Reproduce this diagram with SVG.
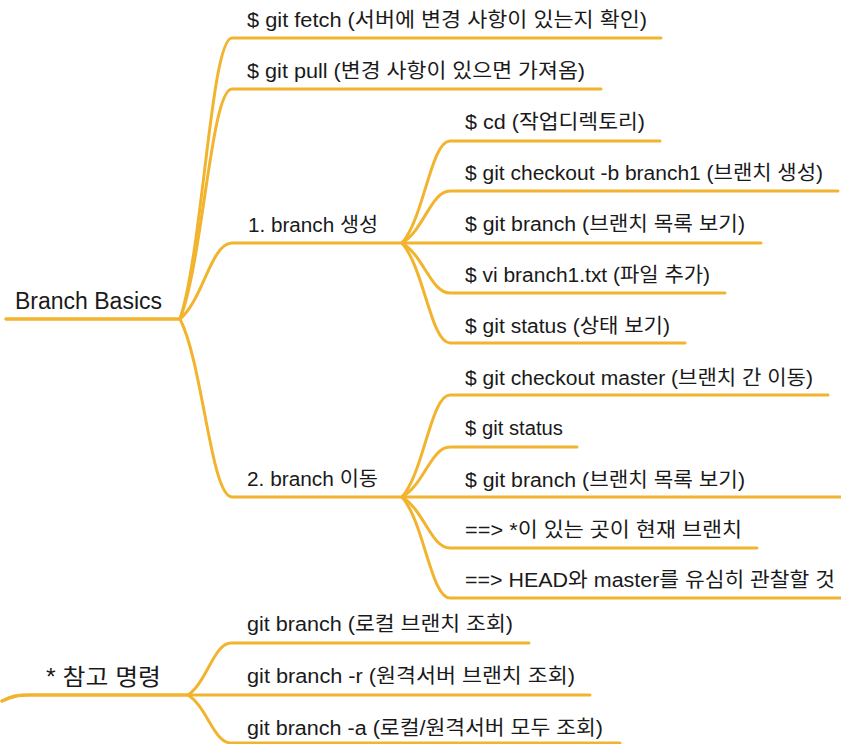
<svg xmlns="http://www.w3.org/2000/svg" width="841" height="744" viewBox="0 0 841 744">
<style>
text{font-family:"Liberation Sans","Noto Sans CJK KR",sans-serif;fill:#1a1a1a;font-size:20px}
.root{font-size:23px}
.c{fill:none;stroke:#F2B42E;stroke-width:3;stroke-linecap:round;stroke-linejoin:round}
.r{stroke-width:3.6}
</style>
<rect width="841" height="744" fill="#ffffff"/>
<g id="connectors">
<path class="c r" d="M6,319 L180,319"/>
<path class="c" d="M180,319 C203,249 211,38 232,38 L661,38"/>
<path class="c" d="M180,319 C203,261 211,89 232,89 L601,89"/>
<path class="c" d="M180,319 C203,300 211,243 232,243 L402,243"/>
<path class="c" d="M180,319 C203,364 211,497 232,497 L402,497"/>
<path class="c" d="M402,243 C424,218 431,141 450,141 L660,141"/>
<path class="c" d="M402,243 C424,230 431,191 450,191 L838,191"/>
<path class="c" d="M402,243 L761,243"/>
<path class="c" d="M402,243 C424,256 431,293 450,293 L725,293"/>
<path class="c" d="M402,243 C424,268 431,343 450,343 L685,343"/>
<path class="c" d="M402,497 C424,472 431,395 450,395 L828,395"/>
<path class="c" d="M402,497 C424,485 431,447 450,447 L577,447"/>
<path class="c" d="M402,497 L845,497"/>
<path class="c" d="M402,497 C424,510 431,548 450,548 L757,548"/>
<path class="c" d="M402,497 C424,522 431,598 450,598 L845,598"/>
<path class="c r" d="M2,701 C12,696 18,695 30,695 L188,695"/>
<path class="c" d="M188,695 C207,682 214,643 231,643 L529,643"/>
<path class="c" d="M188,695 L590,695"/>
<path class="c" d="M188,695 C207,707 214,743 231,743 L620,743"/>
</g>
<g id="n-root"><text class="root" x="15" y="309" textLength="147" lengthAdjust="spacingAndGlyphs">Branch Basics</text></g>
<g id="n-fetch"><text x="247" y="27" textLength="400" lengthAdjust="spacingAndGlyphs">$ git fetch (서버에 변경 사항이 있는지 확인)</text></g>
<g id="n-pull"><text x="247" y="78" textLength="338" lengthAdjust="spacingAndGlyphs">$ git pull (변경 사항이 있으면 가져옴)</text></g>
<g id="n-branch1"><text x="248" y="232" textLength="130" lengthAdjust="spacingAndGlyphs">1. branch 생성</text></g>
<g id="n-branch2"><text x="247" y="486" textLength="131" lengthAdjust="spacingAndGlyphs">2. branch 이동</text></g>
<g id="n-cd"><text x="465" y="129" textLength="180" lengthAdjust="spacingAndGlyphs">$ cd (작업디렉토리)</text></g>
<g id="n-checkoutb"><text x="465" y="180" textLength="358" lengthAdjust="spacingAndGlyphs">$ git checkout -b branch1 (브랜치 생성)</text></g>
<g id="n-branchlist1"><text x="465" y="231" textLength="280" lengthAdjust="spacingAndGlyphs">$ git branch (브랜치 목록 보기)</text></g>
<g id="n-vi"><text x="465" y="282" textLength="245" lengthAdjust="spacingAndGlyphs">$ vi branch1.txt (파일 추가)</text></g>
<g id="n-status1"><text x="465" y="333" textLength="205" lengthAdjust="spacingAndGlyphs">$ git status (상태 보기)</text></g>
<g id="n-checkoutm"><text x="465" y="385" textLength="348" lengthAdjust="spacingAndGlyphs">$ git checkout master (브랜치 간 이동)</text></g>
<g id="n-status2"><text x="465" y="435" textLength="98" lengthAdjust="spacingAndGlyphs">$ git status</text></g>
<g id="n-branchlist2"><text x="465" y="487" textLength="280" lengthAdjust="spacingAndGlyphs">$ git branch (브랜치 목록 보기)</text></g>
<g id="n-star"><text x="465" y="537" textLength="277" lengthAdjust="spacingAndGlyphs">==&gt; *이 있는 곳이 현재 브랜치</text></g>
<g id="n-head"><text x="465" y="587" textLength="370" lengthAdjust="spacingAndGlyphs">==&gt; HEAD와 master를 유심히 관찰할 것</text></g>
<g id="n-ref"><text class="root" x="46" y="685" textLength="115" lengthAdjust="spacingAndGlyphs">* 참고 명령</text></g>
<g id="n-local"><text x="247" y="631" textLength="266" lengthAdjust="spacingAndGlyphs">git branch (로컬 브랜치 조회)</text></g>
<g id="n-remote"><text x="247" y="683" textLength="328" lengthAdjust="spacingAndGlyphs">git branch -r (원격서버 브랜치 조회)</text></g>
<g id="n-all"><text x="247" y="735" textLength="356" lengthAdjust="spacingAndGlyphs">git branch -a (로컬/원격서버 모두 조회)</text></g>
</svg>
